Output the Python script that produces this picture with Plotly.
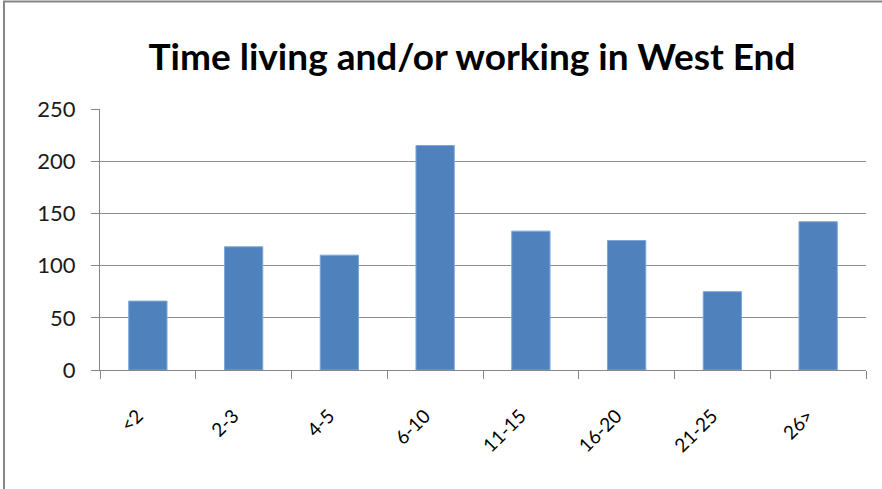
import plotly.graph_objects as go

categories = ["<2", "2-3", "4-5", "6-10", "11-15", "16-20", "21-25", "26>"]
values = [66, 118, 110, 215, 133, 124, 75, 142]
y_ticks = [0, 50, 100, 150, 200, 250]

W, H = 882, 489
ml, mr, mt, mb = 100, 16, 109, 119
pw = W - ml - mr
ph = H - mt - mb

fig = go.Figure(go.Bar(
    x=categories, y=values,
    marker=dict(color="#4F81BD", line=dict(color="#7FA6D6", width=1)),
))

fig.update_layout(
    width=W, height=H,
    margin=dict(l=ml, r=mr, t=mt, b=mb),
    paper_bgcolor="white", plot_bgcolor="white",
    bargap=0.6,
    showlegend=False,
    font=dict(family="Lato, Open Sans, sans-serif", color="#000000"),
    title=dict(text="<b>Time living and/or working in West End</b>",
               x=472 / W, xanchor="center", y=1 - 57 / H, yanchor="middle",
               font=dict(size=37, family="Lato, sans-serif", color="#000000")),
    xaxis=dict(
        type="category", tickangle=-45, tickson="boundaries",
        tickmode="array", tickvals=categories,
        ticktext=[c + "\u00a0\u00a0\u00a0" for c in categories],
        ticks="outside", ticklen=8, tickcolor="#868686",
        showline=True, linecolor="#868686", linewidth=1,
        tickfont=dict(size=19, color="#000000"),
        ticklabelstandoff=16,
    ),
    yaxis=dict(
        range=[0, 250], tickvals=y_ticks,
        ticks="outside", ticklen=8, tickcolor="#868686",
        showline=True, linecolor="#868686", linewidth=1,
        showgrid=True, gridcolor="#8C8C8C", gridwidth=1,
        tickfont=dict(size=22, color="#1a1a1a"),
        ticklabelstandoff=11, zeroline=False,
    ),
    shapes=[dict(
        type="rect", xref="paper", yref="paper",
        x0=(4 - ml) / pw, x1=(W + 5 - ml) / pw,
        y0=-(H + 5 - mt - ph) / ph, y1=1 + (mt - 1.5) / ph,
        line=dict(color="#868686", width=2), fillcolor="rgba(0,0,0,0)",
    )],
)

fig.write_html("out.html", config={"displayModeBar": False},
               post_script="document.body.style.margin='0px';document.body.style.overflow='hidden';")
